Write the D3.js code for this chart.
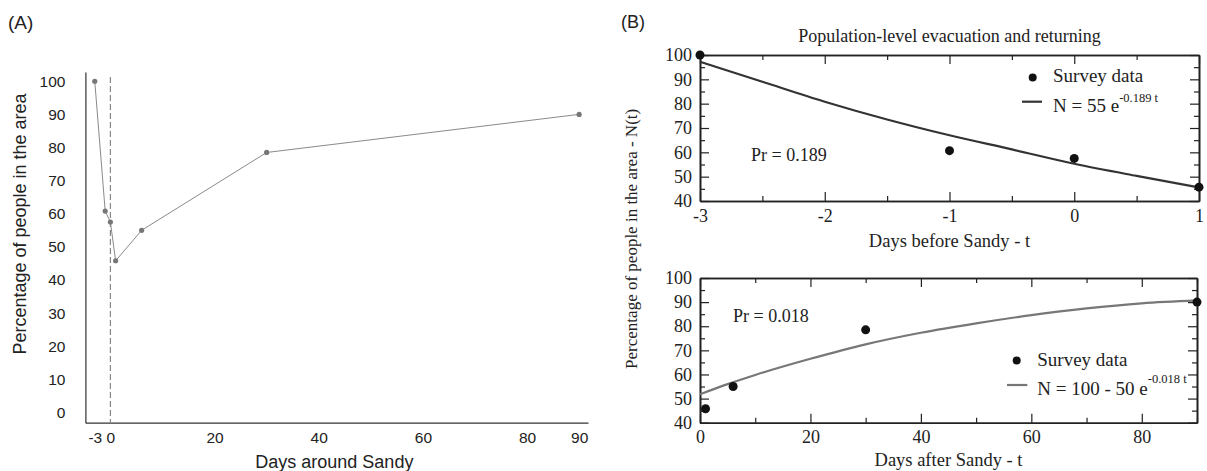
<!DOCTYPE html>
<html><head><meta charset="utf-8">
<script src="https://cdn.jsdelivr.net/npm/d3@7"></script>
<style>body{margin:0;background:#fff} svg{display:block}</style>
</head><body>
<svg id="chart" width="1207" height="471"></svg>
<script>
// ---------- Panel A data ----------
const daysA = [-3, -1, 0, 1, 6, 30, 90];
const pctA = [100, 60.8, 57.5, 45.8, 55, 78.5, 90];
const xTicksA = [-3, 0, 20, 40, 60, 80, 90];
const yTicksA = [0, 10, 20, 30, 40, 50, 60, 70, 80, 90, 100];

// ---------- Panel B data (before Sandy) ----------
const daysBefore = [-3, -1, 0, 1];
const pctBefore = [100, 60.7, 57.5, 45.7];
const fitBeforeT = [-3, -2.5, -2, -1.5, -1, -0.5, 0, 0.5, 1];
const fitBeforeN = [97.2, 89, 80.8, 73.5, 67, 61.2, 55.3, 50.3, 45.6];
const xTicksBefore = [-3, -2, -1, 0, 1];
const xMinorBefore = [-2.5, -1.5, -0.5, 0.5];

// ---------- Panel B data (after Sandy) ----------
const daysAfter = [1, 6, 30, 90];
const pctAfter = [45.8, 55, 78.5, 90];
const fitAfterT = [0, 5, 10, 20, 30, 40, 50, 60, 70, 80, 90];
const fitAfterN = [51.8, 56, 59.8, 66.5, 72.5, 77.3, 81.2, 84.6, 87.4, 89.5, 90.7];
const xTicksAfter = [0, 20, 40, 60, 80];
const xMinorAfter = [10, 30, 50, 70, 90];

const yTicksB = [40, 50, 60, 70, 80, 90, 100];
const yMinorB = [45, 55, 65, 75, 85, 95];

const svg = d3.select("#chart");
const SANS = "'Liberation Sans', Arial, Helvetica, sans-serif";
const SERIF = "'Liberation Serif', 'Times New Roman', Times, serif";
const fmt = d => String(d);   // plain hyphen-minus, no decimals

// ================= Panel A =================
const xA = d3.scaleLinear().domain([-4.8, 91.7]).range([85.4, 588]);
const yA = d3.scaleLinear().domain([-3.1, 102.8]).range([422.7, 72]);

const gA = svg.append("g");
gA.append("text").attr("x", 8).attr("y", 29).attr("font-family", SANS)
  .attr("font-size", 19).attr("fill", "#222").text("(A)");

const axA_x = gA.append("g").attr("transform", `translate(0,${yA.range()[0]})`)
  .call(d3.axisBottom(xA).tickValues(xTicksA).tickFormat(fmt).tickSize(0).tickSizeOuter(0).tickPadding(9));
const axA_y = gA.append("g").attr("transform", `translate(${xA.range()[0]},0)`)
  .call(d3.axisLeft(yA).tickValues(yTicksA).tickFormat(fmt).tickSize(0).tickSizeOuter(0).tickPadding(20));
[axA_x, axA_y].forEach(g => {
  g.select(".domain").attr("stroke", "#333").attr("stroke-width", 1.2);
  g.selectAll("text").attr("font-family", SANS).attr("font-size", 15.5).attr("fill", "#222");
});

// dashed line at day 0
gA.append("line").attr("x1", xA(0)).attr("x2", xA(0))
  .attr("y1", 77).attr("y2", yA.range()[0])
  .attr("stroke", "#888").attr("stroke-width", 1.2).attr("stroke-dasharray", "6,3");

const dataA = daysA.map((d, i) => [d, pctA[i]]);
gA.append("path").datum(dataA)
  .attr("d", d3.line().x(d => xA(d[0])).y(d => yA(d[1])))
  .attr("fill", "none").attr("stroke", "#8a8a8a").attr("stroke-width", 1);
gA.selectAll("circle.pa").data(dataA).join("circle")
  .attr("cx", d => xA(d[0])).attr("cy", d => yA(d[1])).attr("r", 2.6).attr("fill", "#777");

gA.append("text").attr("x", xA(43)).attr("y", 468).attr("text-anchor", "middle")
  .attr("font-family", SANS).attr("font-size", 18).attr("fill", "#222").text("Days around Sandy");
gA.append("text").attr("transform", `translate(26,224) rotate(-90)`)
  .attr("text-anchor", "middle").attr("font-family", SANS).attr("font-size", 18)
  .attr("fill", "#222").text("Percentage of people in the area");

// ================= Panel B =================
const gB = svg.append("g");
gB.append("text").attr("x", 621).attr("y", 28).attr("font-family", SANS)
  .attr("font-size", 18).attr("fill", "#222").text("(B)");

function boxAxes(g, x, y, xMajor, xMinor) {
  const [x0, x1] = x.range();
  const [y0, y1] = y.range(); // y0 bottom, y1 top
  const styleAxis = sel => {
    sel.select(".domain").attr("stroke", "#222").attr("stroke-width", 1.6);
    sel.selectAll(".tick line").attr("stroke", "#222").attr("stroke-width", 1.2);
    sel.selectAll("text").attr("font-family", SERIF).attr("font-size", 18).attr("fill", "#222");
  };
  // bottom
  g.append("g").attr("transform", `translate(0,${y0})`)
    .call(d3.axisBottom(x).tickValues(xMinor).tickSize(-5).tickSizeOuter(0).tickFormat(""))
    .call(styleAxis);
  g.append("g").attr("transform", `translate(0,${y0})`)
    .call(d3.axisBottom(x).tickValues(xMajor).tickFormat(fmt).tickSize(-9).tickSizeOuter(0).tickPadding(8))
    .call(styleAxis);
  // top
  g.append("g").attr("transform", `translate(0,${y1})`)
    .call(d3.axisTop(x).tickValues(xMinor).tickSize(-5).tickSizeOuter(0).tickFormat(""))
    .call(styleAxis);
  g.append("g").attr("transform", `translate(0,${y1})`)
    .call(d3.axisTop(x).tickValues(xMajor).tickSize(-9).tickSizeOuter(0).tickFormat(""))
    .call(styleAxis);
  // left
  g.append("g").attr("transform", `translate(${x0},0)`)
    .call(d3.axisLeft(y).tickValues(yMinorB).tickSize(-5).tickSizeOuter(0).tickFormat(""))
    .call(styleAxis);
  g.append("g").attr("transform", `translate(${x0},0)`)
    .call(d3.axisLeft(y).tickValues(yTicksB).tickFormat(fmt).tickSize(-9).tickSizeOuter(0).tickPadding(8))
    .call(styleAxis);
  // right
  g.append("g").attr("transform", `translate(${x1},0)`)
    .call(d3.axisRight(y).tickValues(yMinorB).tickSize(-5).tickSizeOuter(0).tickFormat(""))
    .call(styleAxis);
  g.append("g").attr("transform", `translate(${x1},0)`)
    .call(d3.axisRight(y).tickValues(yTicksB).tickSize(-9).tickSizeOuter(0).tickFormat(""))
    .call(styleAxis);
}

// ---- top subplot ----
const xT = d3.scaleLinear().domain([-3, 1]).range([700, 1199]);
const yT = d3.scaleLinear().domain([40, 100]).range([201, 55]);
const gT = gB.append("g");
boxAxes(gT, xT, yT, xTicksBefore, xMinorBefore);

gT.append("text").attr("x", (700 + 1199) / 2).attr("y", 42).attr("text-anchor", "middle")
  .attr("font-family", SERIF).attr("font-size", 18).attr("fill", "#222")
  .text("Population-level evacuation and returning");

gT.append("path").datum(fitBeforeT.map((t, i) => [t, fitBeforeN[i]]))
  .attr("d", d3.line().curve(d3.curveMonotoneX).x(d => xT(d[0])).y(d => yT(d[1])))
  .attr("fill", "none").attr("stroke", "#333").attr("stroke-width", 2.2);
gT.selectAll("circle.pt").data(daysBefore.map((d, i) => [d, pctBefore[i]])).join("circle")
  .attr("cx", d => xT(d[0])).attr("cy", d => yT(d[1])).attr("r", 4.5).attr("fill", "#111");

gT.append("text").attr("x", 751).attr("y", 161).attr("font-family", SERIF)
  .attr("font-size", 18).attr("fill", "#222").text("Pr = 0.189");

gT.append("circle").attr("cx", 1032.7).attr("cy", 77.5).attr("r", 4).attr("fill", "#111");
gT.append("text").attr("x", 1053).attr("y", 82).attr("font-family", SERIF)
  .attr("font-size", 19).attr("fill", "#222").text("Survey data");
gT.append("line").attr("x1", 1022).attr("x2", 1042).attr("y1", 101.7).attr("y2", 101.7)
  .attr("stroke", "#333").attr("stroke-width", 2.2);
const legT = gT.append("text").attr("x", 1053).attr("y", 112).attr("font-family", SERIF)
  .attr("font-size", 19).attr("fill", "#222");
legT.append("tspan").text("N = 55 e");
legT.append("tspan").attr("dy", -10).attr("font-size", 12.5).text("-0.189 t");

gT.append("text").attr("x", (700 + 1199) / 2).attr("y", 247).attr("text-anchor", "middle")
  .attr("font-family", SERIF).attr("font-size", 18.5).attr("fill", "#222")
  .text("Days before Sandy - t");

// ---- bottom subplot ----
const xBt = d3.scaleLinear().domain([0, 90]).range([700, 1197]);
const yBt = d3.scaleLinear().domain([40, 100]).range([422.7, 278]);
const gBt = gB.append("g");
boxAxes(gBt, xBt, yBt, xTicksAfter, xMinorAfter);

gBt.append("path").datum(fitAfterT.map((t, i) => [t, fitAfterN[i]]))
  .attr("d", d3.line().curve(d3.curveMonotoneX).x(d => xBt(d[0])).y(d => yBt(d[1])))
  .attr("fill", "none").attr("stroke", "#777").attr("stroke-width", 2.2);
gBt.selectAll("circle.pb").data(daysAfter.map((d, i) => [d, pctAfter[i]])).join("circle")
  .attr("cx", d => xBt(d[0])).attr("cy", d => yBt(d[1])).attr("r", 4.5).attr("fill", "#111");

gBt.append("text").attr("x", 733).attr("y", 322).attr("font-family", SERIF)
  .attr("font-size", 18).attr("fill", "#222").text("Pr = 0.018");

gBt.append("circle").attr("cx", 1016.7).attr("cy", 360.5).attr("r", 4).attr("fill", "#111");
gBt.append("text").attr("x", 1037.3).attr("y", 366).attr("font-family", SERIF)
  .attr("font-size", 19).attr("fill", "#222").text("Survey data");
gBt.append("line").attr("x1", 1007).attr("x2", 1027.3).attr("y1", 385).attr("y2", 385)
  .attr("stroke", "#777").attr("stroke-width", 2.2);
const legB = gBt.append("text").attr("x", 1037.3).attr("y", 395).attr("font-family", SERIF)
  .attr("font-size", 19).attr("fill", "#222");
legB.append("tspan").text("N = 100 - 50 e");
legB.append("tspan").attr("dy", -12).attr("font-size", 12.5).text("-0.018 t");

gBt.append("text").attr("x", (700 + 1197) / 2).attr("y", 466).attr("text-anchor", "middle")
  .attr("font-family", SERIF).attr("font-size", 18.5).attr("fill", "#222")
  .text("Days after Sandy - t");

// shared y-axis title
gB.append("text").attr("transform", `translate(637,${(55 + 422.7) / 2}) rotate(-90)`)
  .attr("text-anchor", "middle").attr("font-family", SERIF).attr("font-size", 17)
  .attr("fill", "#222").text("Percentage of people in the area  - N(t)");
</script>
</body></html>
